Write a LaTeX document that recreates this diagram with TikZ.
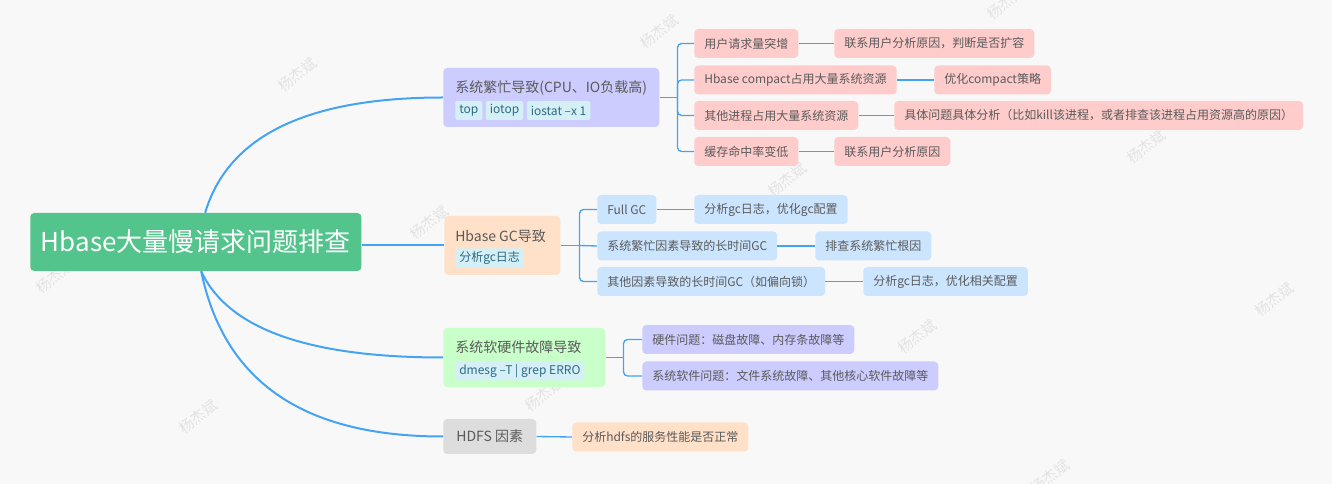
\documentclass[tikz,border=0pt]{standalone}
\usepackage{fontspec}
\setmainfont{Noto Sans CJK SC}
\usepackage{tikz}
\usetikzlibrary{positioning}
\definecolor{page grey}{HTML}{F8F8F8}
\definecolor{root green}{HTML}{52C48C}
\definecolor{line blue}{HTML}{45A3F5}
\definecolor{busy lilac}{HTML}{CCCCFF}
\definecolor{busy pink}{HTML}{FFCCCC}
\definecolor{gc peach}{HTML}{FFE0C8}
\definecolor{gc blue}{HTML}{CCE5FF}
\definecolor{fault green}{HTML}{C9FFC9}
\definecolor{hdfs grey}{HTML}{DDDDDD}
\definecolor{tag cyan}{HTML}{D5EFF7}
\definecolor{tag ink}{HTML}{2E6A82}
\definecolor{text ink}{HTML}{5A5A5A}
\definecolor{mark grey}{HTML}{E3E3E3}
\tikzset{
  box/.style={rounded corners=3pt, text=text ink, font=\fontsize{9pt}{11pt}\selectfont,
    inner xsep=7.5pt, inner ysep=0pt, minimum height=21.75pt, anchor=west},
  topic/.style={rounded corners=3pt, minimum height=44.25pt, anchor=west},
  topictext/.style={text=text ink, font=\fontsize{10.5pt}{12pt}\selectfont, inner sep=0pt, anchor=west},
  tag/.style={fill=tag cyan, text=tag ink, font=\fontsize{9pt}{11pt}\selectfont, rounded corners=1.5pt,
    inner xsep=3pt, inner ysep=0pt, minimum height=14.25pt},
  trunk/.style={draw=line blue, line width=1.5pt},
  twig/.style={draw=line blue, line width=1pt, rounded corners=3pt},
  wmark/.style={text=mark grey, font=\fontsize{11pt}{11pt}\selectfont, rotate=38}
}
\begin{document}
\begin{tikzpicture}[x=0.75pt,y=-0.75pt]
			% page
			\fill[page grey] (0,0) rectangle (1332,484);
			\useasboundingbox (0,0) rectangle (1332,484);
			\foreach \wx/\wy [count=\i] in {297/75, 659/32, 429/223, 55/277, 198/417, 544/395,
				1006/3, 787/180, 1146/147, 1274/300, 917/337, 1050/477}
				\node[wmark] (wm\i) at (\wx,\wy) {杨杰斌};
			% root
			\node[fill=root green, text=white, rounded corners=3pt, font=\fontsize{19.5pt}{24pt}\selectfont,
				inner xsep=8pt, minimum height=43.5pt, anchor=west] (root) at (30,242) {Hbase大量慢请求问题排查};
			% part for system busy
			\begin{scope}
				\node[topic, fill=busy lilac, minimum width=162pt] (busy) at (443,97.5) {};
				\node[topictext] (busyt) at (455,88) {系统繁忙导致(CPU、IO负载高)};
				\node[tag, anchor=west] (tagtop) at (455,110.5) {top};
				\node[tag, right=2.25pt of tagtop] (tagiotop) {iotop};
				\node[tag, right=2.25pt of tagiotop] (tagiostat) {iostat –x 1};
				\node[box, fill=busy pink] (surge) at (694,43.5) {用户请求量突增};
				\node[box, fill=busy pink] (compact) at (694,80) {Hbase compact占用大量系统资源};
				\node[box, fill=busy pink] (otherproc) at (694,115.5) {其他进程占用大量系统资源};
				\node[box, fill=busy pink] (cache) at (694,151.5) {缓存命中率变低};
				\node[box, fill=busy pink] (surgefix) at (834,43.5) {联系用户分析原因，判断是否扩容};
				\node[box, fill=busy pink] (compactfix) at (934,80) {优化compact策略};
				\node[box, fill=busy pink] (otherfix) at (894,115.5) {具体问题具体分析（比如kill该进程，或者排查该进程占用资源高的原因）};
				\node[box, fill=busy pink] (cachefix) at (834,151.5) {联系用户分析原因};
				\draw[twig] (busy.east) -- ++(18,0) coordinate (busyk);
				\draw[twig] (surge.west) -| (busyk) |- (cache.west);
				\draw[twig] (busyk) |- (compact.west);
				\draw[twig] (busyk) |- (otherproc.west);
				\draw[twig] (surge.east) -- (surgefix.west);
				\draw[twig] (compact.east) -- (compactfix.west);
				\draw[twig] (otherproc.east) -- (otherfix.west);
				\draw[twig] (cache.east) -- (cachefix.west);
			\end{scope}
			% part for hbase gc
			\begin{scope}
				\node[topic, fill=gc peach, minimum width=87pt] (gc) at (444,245.5) {};
				\node[topictext] (gct) at (455,236) {Hbase GC导致};
				\node[tag, anchor=west] (taggc) at (455,258) {分析gc日志};
				\node[box, fill=gc blue] (fullgc) at (597,209.5) {Full GC};
				\node[box, fill=gc blue] (busygc) at (597,246) {系统繁忙因素导致的长时间GC};
				\node[box, fill=gc blue] (lockgc) at (597,281.5) {其他因素导致的长时间GC（如偏向锁）};
				\node[box, fill=gc blue] (fullfix) at (694,209.5) {分析gc日志，优化gc配置};
				\node[box, fill=gc blue] (busyfix) at (815,246) {排查系统繁忙根因};
				\node[box, fill=gc blue] (lockfix) at (863,281.5) {分析gc日志，优化相关配置};
				\draw[twig] (gc.east) -- ++(19,0) coordinate (gck);
				\draw[twig] (fullgc.west) -| (gck) |- (lockgc.west);
				\draw[twig] (gck) -- (busygc.west);
				\draw[twig] (fullgc.east) -- (fullfix.west);
				\draw[twig] (busygc.east) -- (busyfix.west);
				\draw[twig] (lockgc.east) -- (lockfix.west);
			\end{scope}
			% part for hardware and software faults
			\begin{scope}
				\node[topic, fill=fault green, minimum width=121.5pt] (fault) at (443,357.5) {};
				\node[topictext] (faultt) at (455,347) {系统软硬件故障导致};
				\node[tag, anchor=west] (tagdmesg) at (455,371) {dmesg –T | grep ERRO};
				\node[box, fill=busy lilac] (hardware) at (642,339.5) {硬件问题：磁盘故障、内存条故障等};
				\node[box, fill=busy lilac] (software) at (642,376) {系统软件问题：文件系统故障、其他核心软件故障等};
				\draw[twig] (fault.east) -- ++(18,0) coordinate (faultk);
				\draw[twig] (hardware.west) -| (faultk) |- (software.west);
			\end{scope}
			% part for hdfs
			\begin{scope}
				\node[topic, fill=hdfs grey, minimum width=69.75pt, minimum height=26.25pt, text=text ink,
					font=\fontsize{10.5pt}{12pt}\selectfont] (hdfs) at (443,436.5) {HDFS 因素};
				\node[box, fill=gc peach] (hdfsfix) at (572,437) {分析hdfs的服务性能是否正常};
				\draw[twig] (hdfs.east) -- (hdfsfix.west);
			\end{scope}
			% curves from root
			\draw[trunk] ([xshift=7pt]root.north) .. controls +(23,-77) and +(-136,0) .. (busy.west);
			\draw[trunk] (gc.west -| root.east) -- (gc.west);
			\draw[trunk] ([xshift=4pt]root.south) .. controls +(27,58) and +(-134,0) .. (fault.west);
			\draw[trunk] ([xshift=4pt]root.south) .. controls +(23,111) and +(-139,0) .. (hdfs.west);
		\end{tikzpicture}
\end{document}
